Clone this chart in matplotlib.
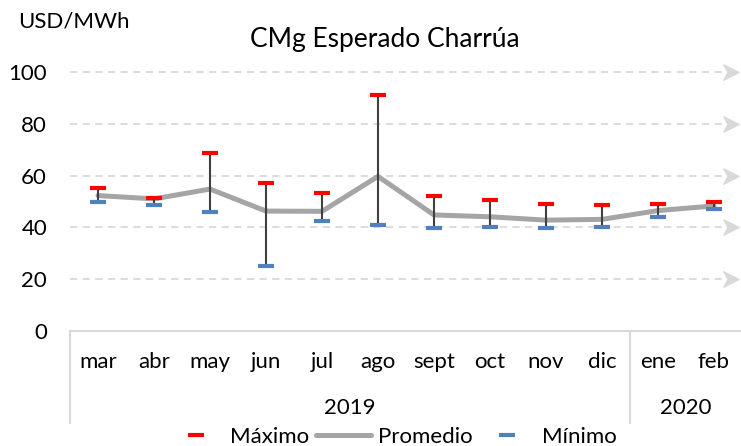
import matplotlib
matplotlib.use("Agg")
import matplotlib.pyplot as plt
from matplotlib.path import Path
import numpy as np

months = ["mar", "abr", "may", "jun", "jul", "ago", "sept", "oct", "nov", "dic", "ene", "feb"]
years = ["2019", "2020"]
year_counts = [10, 2]
maximo = [55.4, 51.4, 68.9, 57.2, 53.2, 91.1, 52.1, 50.6, 48.9, 48.8, 49.2, 49.9]
promedio = [52.3, 51.0, 54.8, 46.3, 46.2, 59.7, 44.8, 44.1, 42.8, 43.1, 46.5, 48.3]
minimo = [49.7, 48.6, 46.1, 25.2, 42.6, 41.0, 39.9, 40.1, 39.7, 40.0, 44.0, 47.2]
yticks = [0, 20, 40, 60, 80, 100]

plt.rcParams['font.family'] = ['Lato', 'DejaVu Sans']
FS = 16

W, H = 741, 446
fig = plt.figure(figsize=(W / 100, H / 100), dpi=100)
ax = fig.add_axes([70 / W, (H - 331) / H, (742 - 70) / W, (331 - 72) / H])

x = np.arange(len(months))
grid_c = "#D9D9D9"

stealth = Path([(-1, -1), (1, 0), (-1, 1), (-0.45, 0), (-1, -1)],
               [Path.MOVETO, Path.LINETO, Path.LINETO, Path.LINETO, Path.CLOSEPOLY])

# gridlines with arrow heads
for yv in yticks[1:]:
    ax.plot([-0.5, 11.3], [yv, yv], color=grid_c, lw=1.3, ls=(0, (4, 3)), zorder=1, clip_on=False)
    ax.plot([11.3], [yv], marker=stealth, ms=11, color=grid_c, mec=grid_c, zorder=1, clip_on=False)

# average line
ax.plot(x, promedio, color="#A5A5A5", lw=3.6, solid_capstyle="round", solid_joinstyle="round",
        zorder=2, label="Promedio")
# high-low lines
ax.vlines(x, minimo, maximo, color="#404040", lw=1.5, zorder=3)
ax.plot(x, maximo, ls="none", marker="_", ms=11, mew=3, color="#FF0000", zorder=4, label="Máximo")
ax.plot(x, minimo, ls="none", marker="_", ms=11, mew=3, color="#4F81BD", zorder=4, label="Mínimo")

ax.set_xlim(-0.5, 11.5)
ax.set_ylim(0, 100)
for s in ax.spines.values():
    s.set_visible(False)
ax.set_yticks(yticks)
ax.set_yticklabels([str(v) for v in yticks], fontsize=FS)
ax.tick_params(axis="y", length=0, pad=16.5)
ax.set_xticks([])

# category axis
tr = ax.get_xaxis_transform()
axis_h = 259.0
ax.plot([-0.5, 11.5], [0, 0], color=grid_c, lw=1.5, transform=tr, clip_on=False, zorder=1)
bottom = -(423 - 331) / axis_h
ax.plot([-0.5, -0.5], [0, bottom], color=grid_c, lw=1.5, transform=tr, clip_on=False)
sep = year_counts[0] - 0.5
ax.plot([sep, sep], [0, bottom], color=grid_c, lw=1.5, transform=tr, clip_on=False)
for i, m in enumerate(months):
    ax.text(i, -(362 - 331) / axis_h, m, transform=tr, ha="center", va="center", fontsize=FS)
start = 0
for yname, cnt in zip(years, year_counts):
    ax.text(start + (cnt - 1) / 2, -(408 - 331) / axis_h, yname, transform=tr,
            ha="center", va="center", fontsize=FS)
    start += cnt

fig.text(18 / W, 1 - 21 / H, "USD/MWh", ha="left", va="center", fontsize=FS)
fig.text(385 / W, 1 - 40 / H, "CMg Esperado Charrúa", ha="center", va="center", fontsize=19)

handles, labels = ax.get_legend_handles_labels()
order = [1, 0, 2]
leg = fig.legend([handles[i] for i in order], [labels[i] for i in order],
                 loc="center", bbox_to_anchor=(392 / W, 1 - 437 / H), ncol=3, frameon=False,
                 fontsize=FS, handlelength=2.5, columnspacing=0.3, handletextpad=0.3,
                 borderpad=0, borderaxespad=0)

fig.savefig("out.png", dpi=100)
